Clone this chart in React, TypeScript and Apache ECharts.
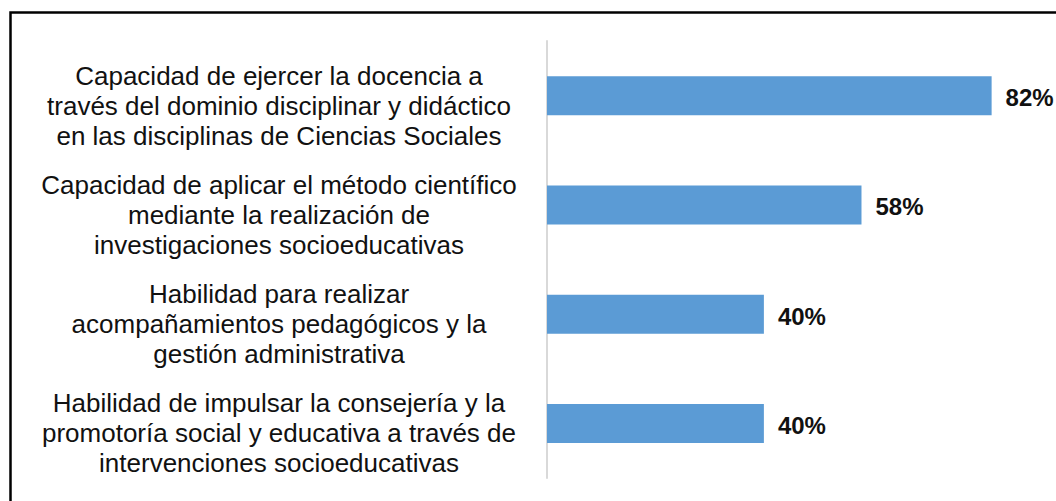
import React, { useEffect, useRef } from "react";
import * as echarts from "echarts";

const categories: string[] = [
  "Capacidad de ejercer la docencia a\ntravés del dominio disciplinar y didáctico\nen las disciplinas de Ciencias Sociales",
  "Capacidad de aplicar el método científico\nmediante la realización de\ninvestigaciones socioeducativas",
  "Habilidad para realizar\nacompañamientos pedagógicos y la\ngestión administrativa",
  "Habilidad de impulsar la consejería y la\npromotoría social y educativa a través de\nintervenciones socioeducativas",
];
const values: number[] = [82, 58, 40, 40];

export default function App() {
  const ref = useRef<HTMLDivElement>(null);
  useEffect(() => {
    if (!ref.current) return;
    const chart = echarts.init(ref.current, undefined, { renderer: "svg" });
    chart.setOption({
      animation: false,
      backgroundColor: "#fff",
      graphic: [
        {
          type: "rect",
          shape: { x: 10.5, y: 12.5, width: 1200, height: 700 },
          style: { fill: "none", stroke: "#000", lineWidth: 2.5 },
          z: 100,
        },
      ],
      grid: { left: 547, top: 41, width: 488, height: 437, outerBoundsMode: "none" },
      xAxis: {
        type: "value",
        min: 0,
        max: 90,
        show: false,
      },
      yAxis: {
        type: "category",
        data: categories,
        inverse: true,
        axisLine: { show: true, lineStyle: { color: "#d9d9d9", width: 2 } },
        axisTick: { show: false },
        axisLabel: {
          align: "center",
          verticalAlign: "middle",
          margin: 268,
          interval: 0,
          hideOverlap: false,
          showMinLabel: true,
          showMaxLabel: true,
          formatter: (v: string) =>
            "{s| }\n" + v.split("\n").map((l) => "{t|" + l + "}").join("\n"),
          rich: {
            s: { fontSize: 2, lineHeight: 20 },
            t: {
              fontFamily: "Liberation Sans, Arial, sans-serif",
              fontSize: 26,
              lineHeight: 30,
              color: "#111",
              align: "center",
            },
          },
          fontFamily: "Liberation Sans, Arial, sans-serif",
          fontSize: 26,
          lineHeight: 30,
          color: "#111",
        },
      },
      series: [
        {
          type: "bar",
          data: values,
          barWidth: 39,
          itemStyle: { color: "#5b9bd5" },
          label: {
            show: true,
            position: "right",
            distance: 14,
            offset: [0, 2],
            formatter: "{c}%",
            fontFamily: "Liberation Sans, Arial, sans-serif",
            fontWeight: "bold",
            fontSize: 24,
            color: "#111",
          },
        },
      ],
    });
    return () => chart.dispose();
  }, []);
  return (
    <div
      ref={ref}
      style={{ position: "fixed", left: 0, top: 0, width: 1056, height: 501 }}
    />
  );
}
